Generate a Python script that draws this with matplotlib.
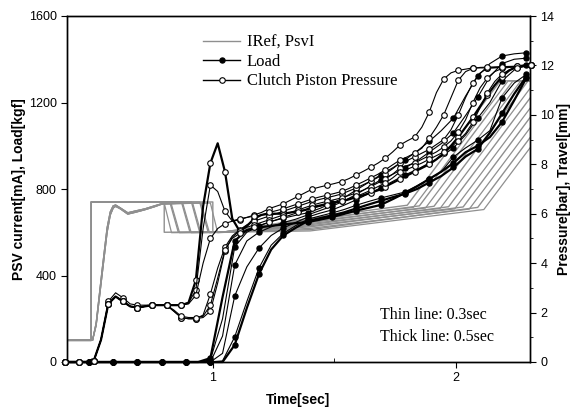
import matplotlib
matplotlib.use("Agg")
import matplotlib.pyplot as plt
from matplotlib.lines import Line2D
import numpy as np

# ---------------- data ----------------
# Pressure samples (bar), every 0.03 s from 0.39 s; markers every 0.06 s
p_t0, p_dt, p_n = 0.39, 0.03, 65
p_early_a = [0, 0, 0, 0, 0.05, 0.9, 2.35, 2.65, 2.45, 2.25, 2.2, 2.25, 2.3, 2.3]
p_early_b = [0, 0, 0, 0, 0.05, 0.9, 2.45, 2.8, 2.6, 2.35, 2.3, 2.3, 2.3, 2.3]
press_1 = p_early_a + [2.3, 2.3, 2.3, 2.4, 3.3, 6.3, 8.05, 8.85, 7.7, 5.8, 5.3, 5.5, 5.8, 5.95, 6.0, 6.0, 6.0, 6.05, 6.1, 6.15,
                       6.27, 6.33, 6.4, 6.45, 6.5, 6.58, 6.67, 6.75, 6.85, 6.95, 7.1, 7.25, 7.4, 7.55, 7.7, 7.85, 8.0, 8.2,
                       8.45, 8.75, 9.1, 9.5, 9.9, 10.35, 10.8, 11.2, 11.55, 11.8, 11.95, 12.0, 12.0]
press_2 = p_early_b + [2.3, 2.3, 2.3, 2.4, 2.9, 5.4, 7.16, 6.9, 6.1, 5.7, 5.75, 5.85, 5.95, 6.05, 6.2, 6.3, 6.4, 6.55, 6.7, 6.85,
                       7.0, 7.08, 7.15, 7.22, 7.3, 7.42, 7.57, 7.72, 7.88, 8.05, 8.25, 8.5, 8.78, 8.95, 9.1, 9.5, 10.1, 10.9,
                       11.45, 11.7, 11.8, 11.85, 11.9, 11.9, 11.9, 11.9, 11.92, 11.93, 11.95, 11.97, 12.0]
press_3 = p_early_a + [2.3, 2.05, 1.8, 1.75, 1.75, 1.9, 2.75, 3.8, 4.65, 5.1, 5.35, 5.55, 5.7, 5.8, 5.9, 6.0, 6.1, 6.2, 6.3, 6.4,
                       6.5, 6.58, 6.65, 6.72, 6.8, 6.92, 7.04, 7.18, 7.32, 7.47, 7.62, 7.82, 8.05, 8.15, 8.3, 8.45, 8.6, 8.8,
                       9.0, 9.4, 10.0, 10.7, 11.3, 11.7, 11.88, 11.92, 11.94, 11.95, 11.96, 11.98, 12.0]
press_4 = p_early_a + [2.3, 2.05, 1.8, 1.75, 1.75, 1.8, 2.06, 3.2, 4.5, 5.05, 5.3, 5.45, 5.55, 5.65, 5.75, 5.85, 5.95, 6.05, 6.15,
                       6.25, 6.35, 6.43, 6.5, 6.57, 6.64, 6.74, 6.84, 6.96, 7.1, 7.25, 7.4, 7.6, 7.85, 7.95, 8.05, 8.2, 8.35,
                       8.5, 8.7, 8.95, 9.3, 9.8, 10.5, 11.1, 11.5, 11.75, 11.88, 11.92, 11.95, 11.97, 12.0]
press_5 = p_early_a + [2.3, 2.3, 2.3, 2.35, 2.7, 4.0, 5.0, 5.4, 5.6, 5.7, 5.8, 5.85, 5.9, 5.95, 6.05, 6.12, 6.2, 6.3, 6.4, 6.5,
                       6.6, 6.68, 6.75, 6.82, 6.9, 7.02, 7.16, 7.3, 7.45, 7.6, 7.78, 7.98, 8.17, 8.3, 8.45, 8.65, 9.06, 9.5,
                       10.0, 10.7, 11.4, 11.75, 11.88, 11.92, 11.93, 11.94, 11.95, 11.96, 11.97, 11.98, 12.0]
press_6 = p_early_a + [2.3, 2.1, 1.85, 1.8, 1.8, 1.85, 2.3, 3.4, 4.55, 5.0, 5.2, 5.35, 5.45, 5.55, 5.65, 5.75, 5.85, 5.95, 6.05,
                       6.15, 6.22, 6.3, 6.37, 6.43, 6.5, 6.6, 6.7, 6.82, 6.95, 7.1, 7.25, 7.45, 7.69, 7.8, 7.92, 8.05, 8.2,
                       8.35, 8.5, 8.7, 8.95, 9.25, 9.7, 10.3, 10.9, 11.35, 11.65, 11.82, 11.9, 11.95, 12.0]
press_series = [press_1, press_2, press_3, press_4, press_5, press_6]
press_thick = [True, False, False, False, False, False]

# Load samples (kgf), every 0.05 s from 0.39 s; markers every 0.1 s
l_t0, l_dt, l_n = 0.39, 0.05, 39
l_zero = [0] * 12
load_1 = l_zero + [18, 300, 560, 610, 622, 630, 636, 642, 647, 658, 670, 685, 700, 713, 726, 753, 781, 812, 846, 880,
                   920, 970, 1000, 1040, 1110, 1210, 1313]
load_2 = l_zero + [10, 200, 532, 600, 630, 650, 665, 678, 690, 710, 735, 760, 795, 830, 865, 898, 934, 975, 1020, 1070,
                   1128, 1230, 1322, 1380, 1415, 1425, 1430]
load_3 = l_zero + [0, 120, 448, 560, 600, 625, 645, 660, 680, 700, 720, 745, 775, 808, 842, 868, 897, 930, 970, 1010,
                   1060, 1140, 1225, 1320, 1380, 1400, 1405]
load_4 = l_zero + [0, 40, 305, 440, 527, 585, 620, 645, 670, 688, 703, 725, 750, 778, 805, 835, 865, 890, 920, 950,
                   990, 1050, 1128, 1200, 1300, 1350, 1373]
load_5 = l_zero + [0, 5, 116, 280, 435, 540, 595, 630, 660, 675, 689, 705, 725, 742, 758, 772, 786, 815, 846, 880,
                   948, 990, 1026, 1070, 1221, 1290, 1330]
load_6 = l_zero + [0, 0, 79, 250, 407, 520, 585, 620, 652, 665, 678, 692, 710, 728, 745, 762, 778, 800, 830, 860,
                   900, 950, 985, 1060, 1150, 1240, 1320]
load_series = [load_1, load_2, load_3, load_4, load_5, load_6]
load_thick = [True, False, False, False, False, True]

# PSV reference current (IRef) knots, mA
iref_t = [
    [0.39, 0.50, 0.50, 1.00, 1.00, 1.05, 1.40, 1.80, 2.183, 2.31],
    [0.39, 0.50, 0.50, 0.80, 0.80, 1.05, 1.40, 1.85, 2.235, 2.31],
    [0.39, 0.50, 0.50, 0.823, 0.858, 1.05, 1.40, 1.91, 2.297, 2.31],
    [0.39, 0.50, 0.50, 0.871, 0.906, 1.05, 1.40, 1.97, 2.305],
    [0.39, 0.50, 0.50, 0.912, 0.946, 1.05, 1.40, 2.03, 2.305],
    [0.39, 0.50, 0.50, 0.946, 0.981, 1.05, 1.40, 2.09, 2.305],
]
iref_v = [
    [100, 100, 740, 740, 600, 602, 665, 725, 1300, 1300],
    [100, 100, 740, 740, 600, 602, 655, 722, 1300, 1300],
    [100, 100, 740, 740, 600, 602, 645, 720, 1300, 1300],
    [100, 100, 740, 740, 600, 602, 635, 718, 1220],
    [100, 100, 740, 740, 600, 602, 625, 717, 1130],
    [100, 100, 740, 740, 600, 602, 612, 715, 1037],
]
# measured PSV current (PsvI) knots, mA
psvi_t_early = [0.39, 0.505, 0.52, 0.545, 0.565, 0.578, 0.59, 0.60, 0.62, 0.65, 0.68, 0.72, 0.76, 0.79]
psvi_v_early_a = [100, 100, 180, 430, 620, 694, 722, 726, 712, 690, 698, 708, 722, 732]
psvi_v_early_b = [100, 100, 170, 410, 600, 680, 712, 720, 708, 684, 692, 704, 718, 730]
psvi_t_late = [
    [0.99, 1.02, 1.06, 1.40, 1.825, 2.215, 2.31],
    [0.80, 0.83, 1.06, 1.40, 1.875, 2.267, 2.31],
    [0.828, 0.863, 1.06, 1.40, 1.935, 2.305],
    [0.876, 0.911, 1.06, 1.40, 1.995, 2.305],
    [0.917, 0.951, 1.06, 1.40, 2.055, 2.305],
    [0.951, 0.986, 1.06, 1.40, 2.115, 2.305],
]
psvi_v_late = [
    [735, 598, 600, 660, 715, 1300, 1300],
    [735, 598, 600, 650, 712, 1300, 1300],
    [735, 598, 600, 640, 710, 1265],
    [735, 598, 600, 630, 708, 1173],
    [735, 598, 600, 618, 707, 1082],
    [735, 598, 600, 606, 705, 990],
]

legend_labels = ["IRef, PsvI", "Load", "Clutch Piston Pressure"]
note_lines = ["Thin line: 0.3sec", "Thick line: 0.5sec"]

# ---------------- plot ----------------
serif = ["Liberation Serif", "DejaVu Serif"]
sans = ["Liberation Sans", "DejaVu Sans"]
plt.rcParams["font.family"] = sans

fig = plt.figure(figsize=(5.75, 4.09), dpi=100)
ax = fig.add_axes([67 / 575, 47 / 409, 463 / 575, 346 / 409])
ax2 = ax.twinx()

gray = "#8f8f8f"
for tt, vv in zip(iref_t, iref_v):
    ax.plot(tt, vv, color=gray, lw=1.0, zorder=1)
for k, (tt, vv) in enumerate(zip(psvi_t_late, psvi_v_late)):
    early_v = psvi_v_early_a if k % 2 == 0 else psvi_v_early_b
    ax.plot(psvi_t_early + tt, early_v + vv, color=gray, lw=0.9, zorder=1)

t_load = l_t0 + l_dt * np.arange(l_n)
for vals, thick in zip(load_series, load_thick):
    ax.plot(t_load, vals, color="black", lw=1.6 if thick else 0.8, marker="o", ms=3.6,
            mfc="black", mec="black", markevery=(0, 2), clip_on=False, zorder=3)

t_press = p_t0 + p_dt * np.arange(p_n)
for vals, thick in zip(press_series, press_thick):
    ax2.plot(t_press, vals, color="black", lw=1.6 if thick else 0.8, marker="o", ms=4.0,
             mfc="white", mec="black", mew=0.8, markevery=(0, 2), clip_on=False, zorder=3)

ax.set_xlim(0.4, 2.305)
ax.set_ylim(0, 1600)
ax2.set_ylim(0, 14)
ax.set_xticks([1, 2])
ax.set_xticks([0.5, 1.5], minor=True)
ax.set_yticks([0, 400, 800, 1200, 1600])
ax2.set_yticks(range(0, 15, 2))
ax2.set_yticks(range(1, 15, 2), minor=True)
ax.tick_params(axis="both", which="major", direction="out", length=4, labelsize=9)
ax.tick_params(axis="x", which="minor", direction="in", length=3)
ax2.tick_params(axis="y", which="major", direction="out", length=4, labelsize=9)
ax2.tick_params(axis="y", which="minor", direction="out", length=2.5)
for a in (ax, ax2):
    for s in a.spines.values():
        s.set_linewidth(1.0)

ax.set_xlabel("Time[sec]", fontsize=10, fontweight="bold", labelpad=6)
ax.set_ylabel("PSV current[mA], Load[kgf]", fontsize=10, fontweight="bold", labelpad=2)
ax2.set_ylabel("Pressure[bar], Travel[mm]", fontsize=10, fontweight="bold", labelpad=2)

handles = [
    Line2D([], [], color=gray, lw=1.0),
    Line2D([], [], color="black", lw=1.0, marker="o", ms=3.6, mfc="black"),
    Line2D([], [], color="black", lw=1.0, marker="o", ms=4.0, mfc="white", mew=0.8),
]
leg = ax.legend(handles, legend_labels, loc="upper left", bbox_to_anchor=(0.28, 0.965),
                frameon=False, prop={"family": serif, "size": 12}, handlelength=2.2,
                handletextpad=0.4, labelspacing=0.2, borderaxespad=0)
leg.set_zorder(5)

ax.text(0.676, 0.136, note_lines[0], transform=ax.transAxes, fontsize=11.5,
        family=serif, va="center", ha="left")
ax.text(0.676, 0.072, note_lines[1], transform=ax.transAxes, fontsize=11.5,
        family=serif, va="center", ha="left")

fig.savefig("out.png", dpi=100)
